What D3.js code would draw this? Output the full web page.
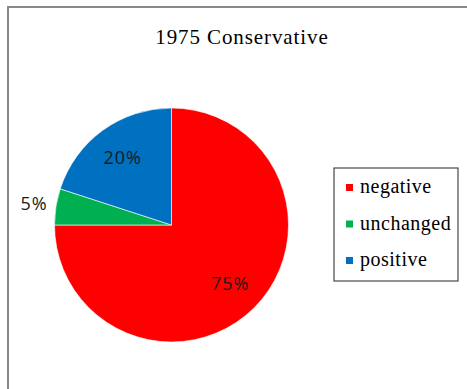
<!DOCTYPE html>
<html>
<head>
<meta charset="utf-8">
<script src="https://cdn.jsdelivr.net/npm/d3@7"></script>
<style>
  body { margin: 0; background: #fff; }
  svg { display: block; }
</style>
</head>
<body>
<div id="chart"></div>
<script>
const title = "1975 Conservative";
const categories = ["negative", "unchanged", "positive"];
const values = [75, 5, 20];
const colors = ["#ff0000", "#00b050", "#0070c0"];

const width = 467, height = 389;
const cx = 171.5, cy = 225, radius = 117;

const svg = d3.select("#chart")
    .append("svg")
    .attr("width", width)
    .attr("height", height);

// chart area frame (only the left and top edges are visible)
svg.append("rect")
    .attr("x", 8).attr("y", 7)
    .attr("width", 470).attr("height", 400)
    .attr("fill", "#fff")
    .attr("stroke", "#888")
    .attr("stroke-width", 2);

svg.append("text")
    .attr("x", 242).attr("y", 44)
    .attr("text-anchor", "middle")
    .style("font-family", "'Liberation Serif', 'Times New Roman', serif")
    .style("font-size", "21px")
    .style("letter-spacing", "0.9px")
    .text(title);

const pie = d3.pie().sort(null).value(d => d);
const arc = d3.arc().innerRadius(0).outerRadius(radius);
const arcs = pie(values);

const g = svg.append("g").attr("transform", "translate(" + cx + "," + cy + ")");

g.selectAll(".slice")
    .data(arcs)
    .enter().append("path")
        .attr("class", "slice")
        .attr("d", arc)
        .attr("fill", (d, i) => colors[i])
        .attr("stroke", "#fff")
        .attr("stroke-width", 0.6);

// data labels: inside for big slices, outside for the small one
const inner = d3.arc().innerRadius(radius * 0.71).outerRadius(radius * 0.71);
const outer = d3.arc().innerRadius(radius * 1.19).outerRadius(radius * 1.19);
g.selectAll(".lbl")
    .data(arcs)
    .enter().append("text")
        .attr("class", "lbl")
        .attr("transform", d => {
            const p = (d.data < 10 ? outer : inner).centroid(d);
            return "translate(" + p[0] + "," + p[1] + ")";
        })
        .attr("text-anchor", "middle")
        .attr("dy", "0.36em")
        .style("font-family", "'Open Sans', 'Liberation Sans', sans-serif")
        .style("font-size", "18px")
        .style("letter-spacing", "1px")
        .style("fill", "#1a1a1a")
        .text(d => d.data + "%");

// legend
const legend = svg.append("g").attr("transform", "translate(334,168)");
legend.append("rect")
    .attr("width", 124).attr("height", 113)
    .attr("fill", "#fff")
    .attr("stroke", "#222")
    .attr("stroke-width", 1);

const rows = legend.selectAll(".row")
    .data(categories)
    .enter().append("g")
        .attr("class", "row")
        .attr("transform", (d, i) => "translate(12," + (25 + i * 36.5) + ")");

rows.append("rect")
    .attr("x", 0).attr("y", -9)
    .attr("width", 7).attr("height", 7)
    .attr("fill", (d, i) => colors[i]);

rows.append("text")
    .attr("x", 14).attr("y", 0)
    .style("font-family", "'Liberation Serif', 'Times New Roman', serif")
    .style("font-size", "20px")
    .style("letter-spacing", "0.5px")
    .text(d => d);
</script>
</body>
</html>
